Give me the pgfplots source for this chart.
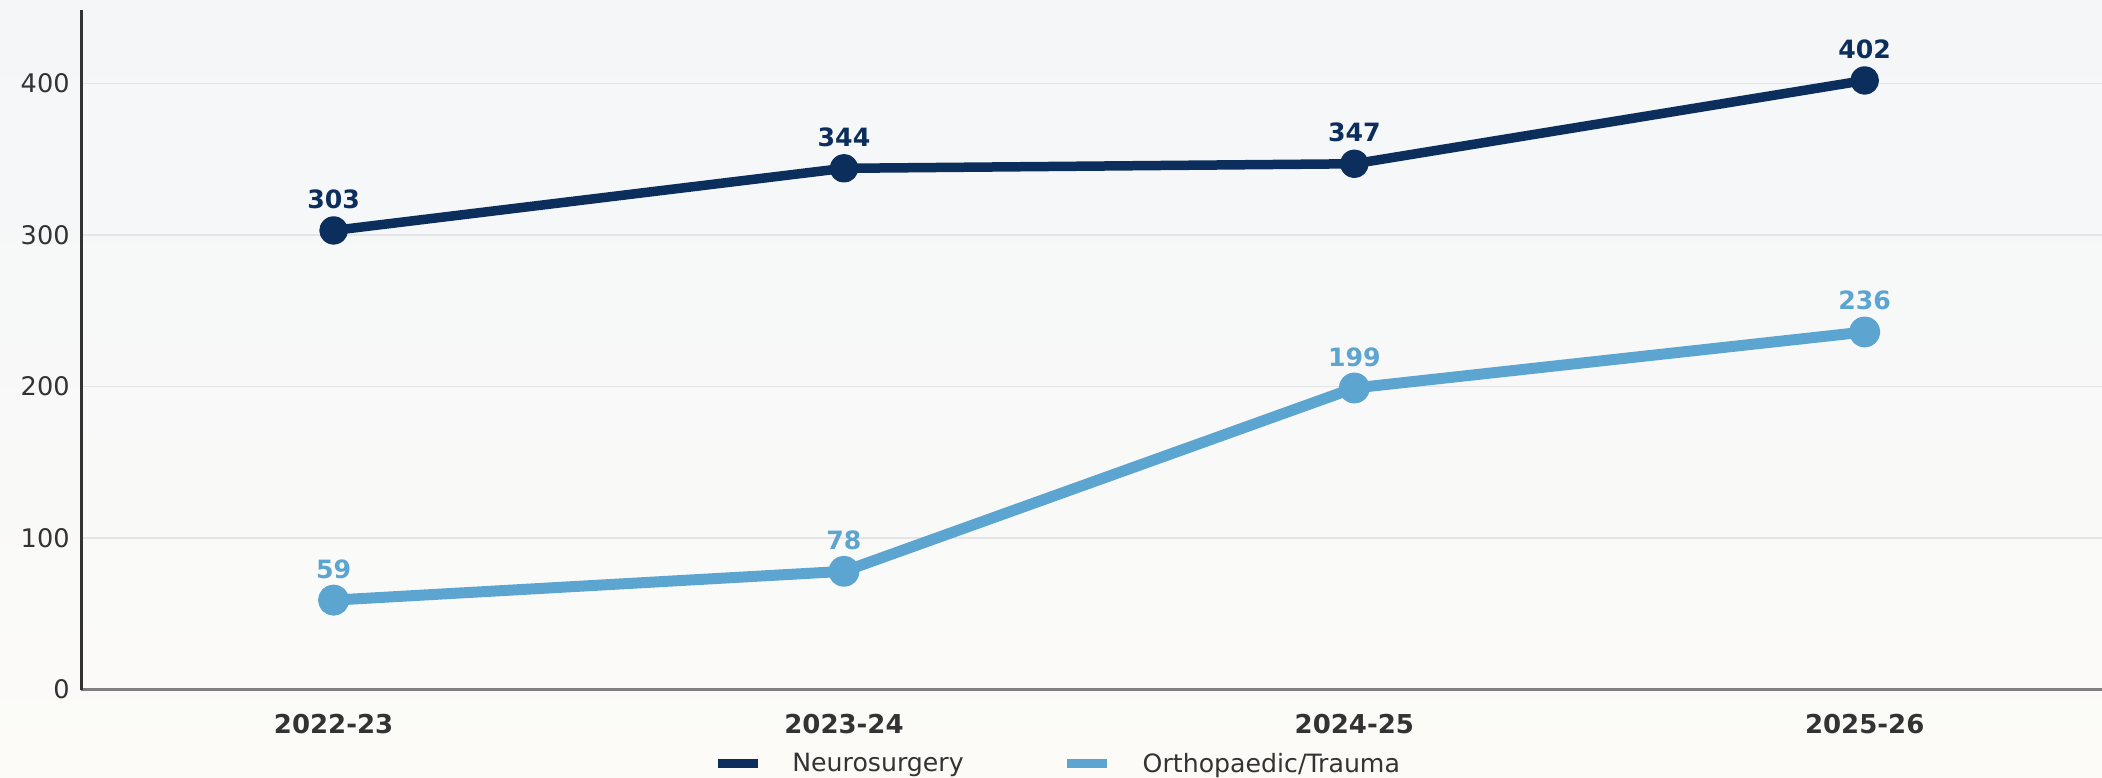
\documentclass[border=0pt]{standalone}
\usepackage{pgfplots}
\pgfplotsset{compat=1.18}
\usepackage{fontspec}
\setmainfont{DejaVu Sans}
\definecolor{navy}{RGB}{11,46,92}
\definecolor{lblue}{RGB}{92,165,208}
\definecolor{txt}{RGB}{51,51,51}
\definecolor{gridc}{RGB}{228,229,232}
\definecolor{xax}{RGB}{128,128,128}
\definecolor{bgtop}{RGB}{244,246,248}
\definecolor{bgbot}{RGB}{252,251,248}
\begin{document}
\begin{tikzpicture}
\path[use as bounding box, top color=bgtop, bottom color=bgbot] (0,0) rectangle (1051pt,388.5pt);
\begin{axis}[
  at={(40.5pt,43.75pt)}, anchor=south west,
  width=1010.5pt, height=339.75pt, scale only axis,
  xmin=-0.495, xmax=3.465, ymin=0, ymax=448.5,
  axis x line*=bottom, axis y line*=left,
  x axis line style={-, draw=xax, line width=1.75pt},
  y axis line style={-, draw=txt, line width=1.5pt},
  xtick={0,1,2,3},
  xticklabels={2022-23,2023-24,2024-25,2025-26},
  ytick={0,100,200,300,400},
  major tick length=0pt,
  ymajorgrids, grid style={gridc, line width=0.75pt},
  /pgf/number format/assume math mode=true,
  xticklabel style={anchor=base, yshift=-22pt, font=\bfseries\fontsize{13}{15}\selectfont, text=txt},
  yticklabel style={anchor=east, inner sep=0pt, xshift=-5.5pt, font=\fontsize{12.8}{15}\selectfont, text=txt},
  legend columns=2,
  legend style={at={(0.4827,-0.1096)}, anchor=center, draw=none, fill=none,
    font=\fontsize{12.6}{15}\selectfont, text=txt,
    nodes={inner sep=0pt},
    /tikz/every even column/.append style={column sep=49.5pt}},
  legend image code/.code={\draw[#1, line width=4.5pt] (0pt,0pt) -- (20pt,0pt); \path (35pt,0pt);},
  nodes near coords,
  every node near coord/.append style={anchor=base, inner sep=0pt, yshift=11pt, font=\bfseries\fontsize{12.6}{15}\selectfont},
]
\addplot[navy, line width=4.75pt, line join=round, mark=*, mark size=4.75pt, mark options={draw=none, fill=navy},
  every node near coord/.append style={text=navy}]
  coordinates {(0,303)(1,344)(2,347)(3,402)};
\addlegendentry{Neurosurgery}
\addplot[lblue, line width=5.5pt, line join=round, mark=*, mark size=5pt, mark options={draw=none, fill=lblue},
  every node near coord/.append style={text=lblue}]
  coordinates {(0,59)(1,78)(2,199)(3,236)};
\addlegendentry{Orthopaedic/Trauma}
\end{axis}
\end{tikzpicture}
\end{document}
